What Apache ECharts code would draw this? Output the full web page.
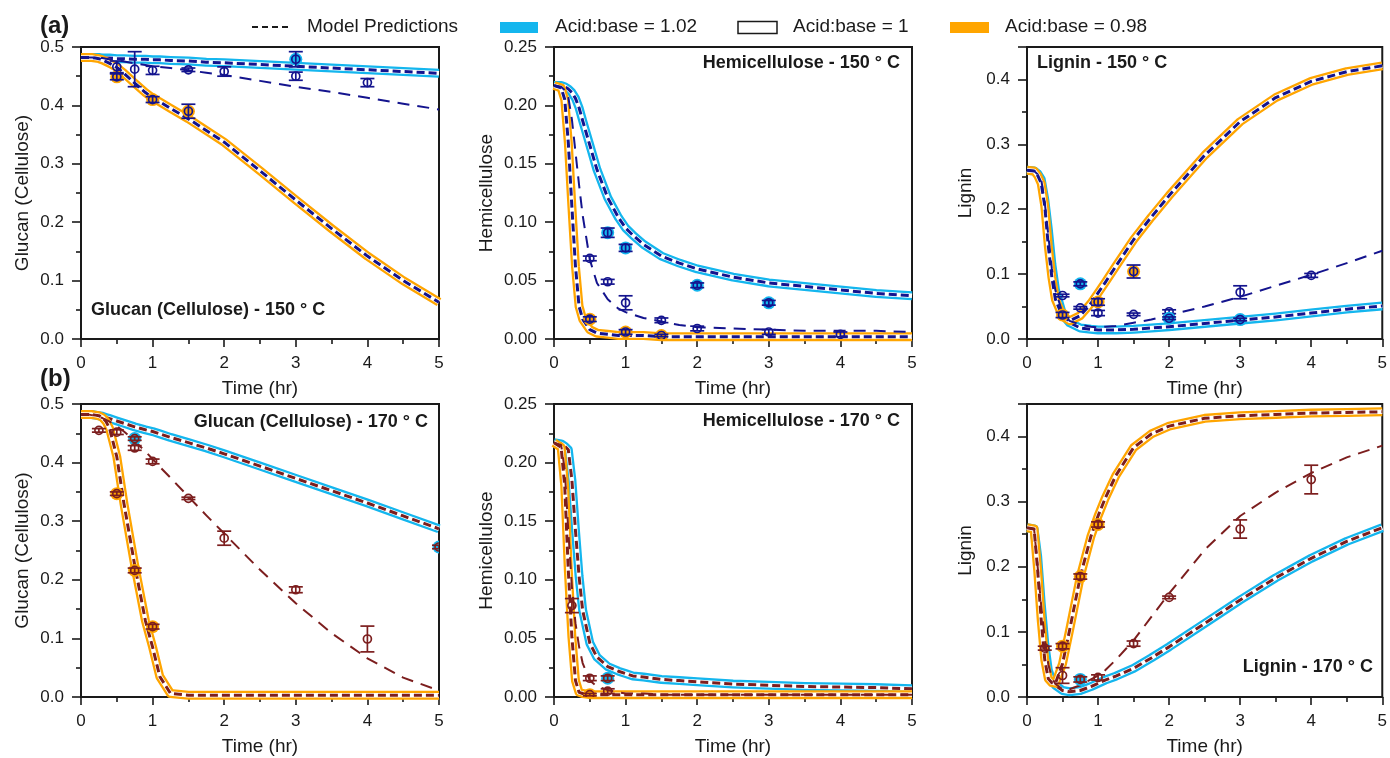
<!DOCTYPE html>
<html>
<head>
<meta charset="utf-8">
<script src="https://cdn.jsdelivr.net/npm/echarts@6/dist/echarts.min.js"></script>
<style>
html, body { margin: 0; padding: 0; background: #fff; }
#chart { width: 1390px; height: 758px; }
</style>
</head>
<body>
<div id="chart"></div>
<script>
// time grid of the model curves (hr)
const T = [0, 0.1, 0.15, 0.2, 0.25, 0.3, 0.35, 0.4, 0.5, 0.6, 0.75, 0.9, 1, 1.1, 1.25, 1.5, 1.75, 2, 2.5, 3, 3.5, 4, 4.5, 5];

// 150 C model curves: HI = acid:base 1.02, MID = 1, LO = 0.98
const GLU150_HI  = [0.482,0.482,0.482,0.482,0.482,0.481,0.481,0.481,0.480,0.480,0.479,0.479,0.478,0.478,0.477,0.476,0.474,0.473,0.470,0.467,0.464,0.461,0.458,0.455];
const GLU150_MID = [0.482,0.482,0.482,0.482,0.481,0.481,0.480,0.479,0.477,0.475,0.472,0.469,0.467,0.466,0.464,0.460,0.456,0.452,0.442,0.432,0.423,0.413,0.403,0.393];
const GLU150_LO  = [0.482,0.482,0.482,0.481,0.480,0.478,0.475,0.472,0.465,0.455,0.438,0.422,0.413,0.406,0.395,0.377,0.357,0.337,0.288,0.238,0.189,0.142,0.100,0.063];

const HEM150_HI  = [0.217,0.217,0.216,0.214,0.211,0.206,0.198,0.187,0.166,0.145,0.121,0.104,0.095,0.089,0.081,0.071,0.065,0.060,0.053,0.048,0.045,0.042,0.039,0.037];
const HEM150_MID = [0.217,0.216,0.213,0.207,0.188,0.160,0.132,0.106,0.068,0.048,0.034,0.026,0.023,0.021,0.018,0.015,0.012,0.010,0.009,0.008,0.007,0.007,0.007,0.006];
const HEM150_LO  = [0.217,0.215,0.205,0.168,0.113,0.062,0.028,0.017,0.008,0.005,0.004,0.003,0.003,0.003,0.003,0.002,0.002,0.002,0.002,0.002,0.002,0.002,0.002,0.002];

const LIG150_HI  = [0.260,0.259,0.255,0.246,0.215,0.169,0.115,0.076,0.038,0.025,0.017,0.015,0.014,0.014,0.014,0.015,0.017,0.019,0.024,0.029,0.034,0.040,0.046,0.051];
const LIG150_MID = [0.260,0.259,0.254,0.246,0.210,0.160,0.108,0.075,0.040,0.028,0.022,0.019,0.018,0.019,0.020,0.025,0.030,0.037,0.050,0.065,0.082,0.099,0.117,0.136];
const LIG150_LO  = [0.260,0.259,0.252,0.240,0.205,0.143,0.095,0.061,0.035,0.028,0.036,0.055,0.071,0.087,0.112,0.153,0.188,0.221,0.283,0.335,0.372,0.397,0.412,0.421];

// 170 C model curves
const GLU170_HI  = [0.482,0.482,0.482,0.481,0.480,0.479,0.477,0.475,0.471,0.467,0.461,0.456,0.453,0.449,0.443,0.434,0.425,0.415,0.394,0.373,0.352,0.331,0.309,0.287];
const GLU170_MID = [0.482,0.482,0.481,0.480,0.478,0.476,0.473,0.470,0.462,0.453,0.437,0.419,0.406,0.393,0.374,0.342,0.310,0.279,0.217,0.160,0.109,0.066,0.033,0.011];
const GLU170_LO  = [0.482,0.482,0.482,0.481,0.480,0.477,0.470,0.458,0.410,0.330,0.225,0.130,0.085,0.035,0.006,0.003,0.003,0.003,0.003,0.003,0.003,0.003,0.003,0.003];

const HEM170_HI  = [0.217,0.216,0.214,0.211,0.185,0.142,0.103,0.074,0.046,0.034,0.026,0.022,0.020,0.018,0.017,0.015,0.014,0.013,0.011,0.010,0.009,0.0085,0.008,0.007];
const HEM170_MID = [0.217,0.215,0.194,0.142,0.094,0.063,0.043,0.029,0.014,0.009,0.006,0.004,0.003,0.003,0.003,0.002,0.002,0.002,0.002,0.002,0.002,0.002,0.002,0.002];
const HEM170_LO  = [0.217,0.213,0.180,0.108,0.051,0.014,0.004,0.003,0.002,0.002,0.002,0.002,0.002,0.002,0.002,0.002,0.002,0.002,0.002,0.002,0.002,0.002,0.002,0.002];

const LIG170_HI  = [0.260,0.258,0.216,0.144,0.082,0.041,0.025,0.018,0.010,0.008,0.010,0.016,0.021,0.026,0.032,0.044,0.060,0.077,0.113,0.149,0.183,0.213,0.239,0.260];
const LIG170_MID = [0.260,0.258,0.200,0.140,0.090,0.050,0.030,0.020,0.012,0.012,0.018,0.027,0.033,0.041,0.057,0.087,0.123,0.159,0.226,0.278,0.314,0.344,0.368,0.386];
const LIG170_LO  = [0.260,0.258,0.195,0.118,0.057,0.028,0.022,0.021,0.051,0.103,0.185,0.247,0.278,0.305,0.340,0.383,0.404,0.416,0.428,0.432,0.434,0.436,0.437,0.438];

// measured points: [time, value, error, halo (0 none, 1 = 1.02, 2 = 0.98)]
const GLU150_PTS = [[0.5,0.449,0.005,2],[0.5,0.466,0.010,0],[0.75,0.462,0.030,0],[1,0.410,0.005,2],[1,0.460,0.007,0],[1.5,0.390,0.012,2],[1.5,0.461,0.003,0],[2,0.458,0.008,0],[3,0.479,0.013,1],[3,0.450,0.007,0],[4,0.439,0.007,0]];
const HEM150_PTS = [[0.5,0.069,0.002,0],[0.5,0.017,0.002,2],[0.75,0.091,0.004,1],[0.75,0.049,0.002,0],[1,0.078,0.003,1],[1,0.031,0.006,0],[1,0.006,0.002,2],[1.5,0.016,0.002,0],[1.5,0.003,0.001,2],[2,0.046,0.002,1],[2,0.009,0.002,0],[3,0.031,0.002,1],[3,0.006,0.002,0],[4,0.004,0.002,0]];
const LIG150_PTS = [[0.5,0.067,0.002,0],[0.5,0.037,0.004,2],[0.75,0.085,0.003,1],[0.75,0.048,0.002,0],[1,0.057,0.005,2],[1,0.040,0.004,0],[1.5,0.104,0.010,2],[1.5,0.038,0.002,0],[2,0.042,0.003,0],[2,0.032,0.002,1],[3,0.072,0.010,0],[3,0.030,0.002,1],[4,0.098,0.003,0]];
const GLU170_PTS = [[0.25,0.455,0.003,0],[0.5,0.452,0.004,0],[0.5,0.347,0.003,2],[0.75,0.441,0.003,1],[0.75,0.425,0.004,0],[0.75,0.216,0.004,2],[1,0.402,0.004,0],[1,0.120,0.004,2],[1.5,0.339,0.002,0],[2,0.271,0.012,0],[3,0.183,0.005,0],[4,0.099,0.022,0],[5,0.256,0.003,1]];
const HEM170_PTS = [[0.25,0.078,0.006,0],[0.5,0.016,0.002,0],[0.5,0.002,0.001,2],[0.75,0.016,0.002,1],[0.75,0.005,0.002,0]];
const LIG170_PTS = [[0.25,0.075,0.003,0],[0.5,0.078,0.004,2],[0.5,0.033,0.012,0],[0.75,0.185,0.004,2],[0.75,0.027,0.004,1],[1,0.265,0.004,2],[1,0.030,0.004,0],[1.5,0.082,0.004,0],[2,0.153,0.002,0],[3,0.258,0.014,0],[4,0.334,0.022,0]];

const X_TICKS = [0, 1, 2, 3, 4, 5];
const LEGEND_LABELS = ['Model Predictions', 'Acid:base = 1.02', 'Acid:base = 1', 'Acid:base = 0.98'];

const FONT = '"Liberation Sans", Arial, sans-serif';
const CYAN = '#14b6ee';
const ORANGE = '#ffa500';
const NAVY = '#14148e';
const MAROON = '#7c1e1e';
const INK = '#1a1a1a';

const panels = [
    {hi: GLU150_HI, mid: GLU150_MID, lo: GLU150_LO, pts: GLU150_PTS, ymax: 0.5, step: 0.1, dec: 1, yname: 'Glucan (Cellulose)', gap: 49, dark: NAVY,
     title: 'Glucan (Cellulose) - 150 ° C', tx: 91, ty: 310, align: 'left'},
    {hi: HEM150_HI, mid: HEM150_MID, lo: HEM150_LO, pts: HEM150_PTS, ymax: 0.25, step: 0.05, dec: 2, yname: 'Hemicellulose', gap: 58, dark: NAVY,
     title: 'Hemicellulose - 150 ° C', tx: 900, ty: 63, align: 'right'},
    {hi: LIG150_HI, mid: LIG150_MID, lo: LIG150_LO, pts: LIG150_PTS, ymax: 0.45, step: 0.1, dec: 1, yname: 'Lignin', gap: 52, dark: NAVY,
     title: 'Lignin - 150 ° C', tx: 1037, ty: 63, align: 'left'},
    {hi: GLU170_HI, mid: GLU170_MID, lo: GLU170_LO, pts: GLU170_PTS, ymax: 0.5, step: 0.1, dec: 1, yname: 'Glucan (Cellulose)', gap: 49, dark: MAROON,
     title: 'Glucan (Cellulose) - 170 ° C', tx: 428, ty: 422, align: 'right'},
    {hi: HEM170_HI, mid: HEM170_MID, lo: HEM170_LO, pts: HEM170_PTS, ymax: 0.25, step: 0.05, dec: 2, yname: 'Hemicellulose', gap: 58, dark: MAROON,
     title: 'Hemicellulose - 170 ° C', tx: 900, ty: 421, align: 'right'},
    {hi: LIG170_HI, mid: LIG170_MID, lo: LIG170_LO, pts: LIG170_PTS, ymax: 0.45, step: 0.1, dec: 1, yname: 'Lignin', gap: 52, dark: MAROON,
     title: 'Lignin - 170 ° C', tx: 1373, ty: 667, align: 'right'}
];

const lefts = [81, 554, 1027];
const tops = [47, 404];
const heights = [292, 293];

const grids = [], xAxes = [], yAxes = [], series = [];

function pairs(vals) {
    return T.map((t, k) => [t, vals[k]]);
}

function lineSeries(i, vals, color, width, dash, z) {
    return {
        type: 'line', xAxisIndex: i, yAxisIndex: i, data: pairs(vals),
        symbol: 'none', smooth: false, clip: true, silent: true, z: z,
        lineStyle: {color: color, width: width, type: dash || 'solid', cap: 'butt', join: 'round'}
    };
}

function pointRenderer(color) {
    return function (params, api) {
        const t = api.value(0), v = api.value(1), e = api.value(2), h = api.value(3);
        const c = api.coord([t, v]);
        const top = api.coord([t, v + e]);
        const bot = api.coord([t, v - e]);
        const st = {stroke: color, lineWidth: 1.7, fill: null};
        const kids = [];
        if (h) {
            kids.push({type: 'circle', shape: {cx: c[0], cy: c[1], r: 6.5}, style: {fill: h === 1 ? CYAN : ORANGE}});
        }
        kids.push({type: 'line', shape: {x1: c[0], y1: top[1], x2: c[0], y2: bot[1]}, style: st});
        kids.push({type: 'line', shape: {x1: c[0] - 7, y1: top[1], x2: c[0] + 7, y2: top[1]}, style: st});
        kids.push({type: 'line', shape: {x1: c[0] - 7, y1: bot[1], x2: c[0] + 7, y2: bot[1]}, style: st});
        kids.push({type: 'circle', shape: {cx: c[0], cy: c[1], r: 4}, style: {stroke: color, lineWidth: 1.7, fill: 'rgba(255,255,255,0)'}});
        return {type: 'group', children: kids};
    };
}

panels.forEach((p, i) => {
    const row = Math.floor(i / 3), col = i % 3;
    grids.push({left: lefts[col], top: tops[row], width: 358, height: heights[row],
        show: true, borderColor: INK, borderWidth: 2, backgroundColor: 'transparent'});
    xAxes.push({
        type: 'value', gridIndex: i, min: X_TICKS[0], max: X_TICKS[X_TICKS.length - 1], interval: 1,
        name: 'Time (hr)', nameLocation: 'middle', nameGap: 40,
        nameTextStyle: {fontSize: 19, color: INK, fontFamily: FONT},
        axisLine: {show: true, lineStyle: {color: INK, width: 2}},
        axisTick: {show: true, length: 8, lineStyle: {color: INK, width: 1.6}},
        minorTick: {show: true, splitNumber: 2, length: 5, lineStyle: {color: INK, width: 1.6}},
        splitLine: {show: false},
        axisLabel: {fontSize: 17, color: INK, fontFamily: FONT, margin: 16}
    });
    yAxes.push({
        type: 'value', gridIndex: i, min: 0, max: p.ymax, interval: p.step,
        name: p.yname, nameLocation: 'middle', nameGap: p.gap,
        nameTextStyle: {fontSize: 19, color: INK, fontFamily: FONT},
        axisLine: {show: true, lineStyle: {color: INK, width: 2}},
        axisTick: {show: true, length: 9, lineStyle: {color: INK, width: 1.6}},
        minorTick: {show: true, splitNumber: 2, length: 5, lineStyle: {color: INK, width: 1.6}},
        splitLine: {show: false},
        axisLabel: {fontSize: 17, color: INK, fontFamily: FONT, margin: 17, showMaxLabel: p.ymax !== 0.45,
            formatter: v => v.toFixed(p.dec)}
    });
    // acid:base = 1.02 band
    series.push(lineSeries(i, p.hi, CYAN, 9, null, 2));
    series.push(lineSeries(i, p.hi, '#ffffff', 4.4, null, 2));
    series.push(lineSeries(i, p.hi, p.dark, 3, [8, 4], 2));
    // acid:base = 0.98 band
    series.push(lineSeries(i, p.lo, ORANGE, 9, null, 3));
    series.push(lineSeries(i, p.lo, '#ffffff', 4.4, null, 3));
    series.push(lineSeries(i, p.lo, p.dark, 3, [8, 4], 3));
    // acid:base = 1
    series.push(lineSeries(i, p.mid, p.dark, 2, [12, 8], 4));
    series.push({
        type: 'custom', xAxisIndex: i, yAxisIndex: i, data: p.pts, clip: true, z: 5, silent: true,
        encode: {x: 0, y: 1}, renderItem: pointRenderer(p.dark)
    });
});

const graphics = [
    {type: 'text', x: 40, y: 26, style: {text: '(a)', font: 'bold 24px ' + FONT, fill: INK, verticalAlign: 'middle'}},
    {type: 'text', x: 40, y: 379, style: {text: '(b)', font: 'bold 24px ' + FONT, fill: INK, verticalAlign: 'middle'}},
    {type: 'line', shape: {x1: 252, y1: 27, x2: 292, y2: 27}, style: {stroke: INK, lineWidth: 2, lineDash: [6, 4]}},
    {type: 'text', x: 307, y: 27, style: {text: LEGEND_LABELS[0], font: '19px ' + FONT, fill: INK, verticalAlign: 'middle'}},
    {type: 'rect', shape: {x: 500, y: 22, width: 38, height: 11}, style: {fill: CYAN}},
    {type: 'text', x: 555, y: 27, style: {text: LEGEND_LABELS[1], font: '19px ' + FONT, fill: INK, verticalAlign: 'middle'}},
    {type: 'rect', shape: {x: 738, y: 21.5, width: 39, height: 12}, style: {fill: '#fff', stroke: INK, lineWidth: 1.5}},
    {type: 'text', x: 793, y: 27, style: {text: LEGEND_LABELS[2], font: '19px ' + FONT, fill: INK, verticalAlign: 'middle'}},
    {type: 'rect', shape: {x: 950, y: 22, width: 39, height: 11}, style: {fill: ORANGE}},
    {type: 'text', x: 1005, y: 27, style: {text: LEGEND_LABELS[3], font: '19px ' + FONT, fill: INK, verticalAlign: 'middle'}}
];
panels.forEach(p => {
    graphics.push({type: 'text', x: p.tx, y: p.ty, z: 10,
        style: {text: p.title, font: 'bold 18px ' + FONT, fill: INK, align: p.align, verticalAlign: 'middle'}});
});

var myChart = echarts.init(document.getElementById('chart'), null, {renderer: 'canvas'});
myChart.setOption({
    animation: false,
    backgroundColor: '#ffffff',
    grid: grids,
    xAxis: xAxes,
    yAxis: yAxes,
    series: series,
    graphic: graphics
});
</script>
</body>
</html>
